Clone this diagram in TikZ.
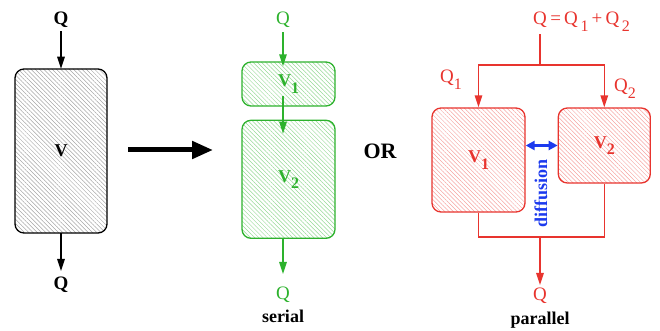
\documentclass[tikz,border=0pt]{standalone}
\usepackage{fontspec}
\setmainfont{Liberation Serif}
\usetikzlibrary{arrows.meta, positioning, patterns.meta, calc}

\definecolor{sergreen}{RGB}{45,178,45}
\definecolor{parred}{RGB}{232,52,46}
\definecolor{difblue}{RGB}{28,58,238}

\newcommand{\lowsub}[1]{\raisebox{-0.35em}{\fontsize{16}{16}\selectfont #1}}

\tikzstyle{vol} = [draw, line width=1.3pt, rounded corners=9pt, inner sep=0pt, font=\fontsize{18}{20}\selectfont\bfseries]
\tikzstyle{hatch} = [pattern={Lines[angle=-45, distance=3pt, line width=0.5pt]}]
\tikzstyle{flow} = [line width=1.4pt, -{Triangle[length=12pt, width=7.5pt]}]
\tikzstyle{qlabel} = [font=\fontsize{19}{22}\selectfont, inner sep=1pt]
\tikzstyle{caption} = [font=\fontsize{18}{20}\selectfont\bfseries, inner sep=1pt]

\begin{document}
\begin{tikzpicture}[x=1pt, y=-1pt]
        \useasboundingbox (0,0) rectangle (660,331);

        % Single volume
        \node[vol, hatch, pattern color=black!35, minimum width=92pt, minimum height=164pt] (vbox) at (61,151) {V};
        \node[qlabel, font=\fontsize{19}{22}\selectfont\bfseries] (qin) at (61,20) {Q};
        \node[qlabel, font=\fontsize{19}{22}\selectfont\bfseries] (qout) at (61,285) {Q};
        \draw[flow, shorten <=2pt] (qin) -- (vbox);
        \draw[flow, shorten >=5pt] (vbox) -- (qout);

        % Big arrow
        \coordinate (bigA) at (128,150);
        \coordinate (bigB) at (213,150);
        \draw[line width=5pt, -{Triangle[length=21pt, width=17pt]}] (bigA) -- (bigB);

        \node[font=\fontsize{22}{24}\selectfont\bfseries] (or) at (380,151) {OR};

        % Serial volumes
        \node[vol, hatch, draw=sergreen, pattern color=sergreen!50, text=sergreen, minimum width=93pt, minimum height=44pt] (g1) at (288.5,84) {V\lowsub{1}};
        \node[vol, hatch, draw=sergreen, pattern color=sergreen!50, text=sergreen, minimum width=93pt, minimum height=118pt, below=13pt of g1] (g2) {V\lowsub{2}};
        \node[qlabel, sergreen] (gqin) at (283,20) {Q};
        \node[qlabel, sergreen] (gqout) at (283,295) {Q};
        \draw[flow, sergreen, shorten <=3pt] (gqin) -- ($(gqin |- g1.north)+(0,5)$);
        \draw[flow, sergreen] ($(gqin |- g1.south)+(0,-11)$) -- ($(gqin |- g2.north)+(0,14)$);
        \draw[flow, sergreen, shorten >=12pt] (gqin |- g2.south) -- (gqout);
        \node[caption] (serial) at (283,316) {serial};

        % Parallel volumes
        \node[vol, hatch, draw=parred, pattern color=parred!45, text=parred, minimum width=93pt, minimum height=104pt] (r1) at (478.5,160) {V\lowsub{1}};
        \node[vol, hatch, draw=parred, pattern color=parred!45, text=parred, minimum width=92pt, minimum height=75pt, anchor=north west] (r2) at ([xshift=32pt]r1.north east) {V\lowsub{2}};
        \node[qlabel, parred] (rqin) at (540,20) {Q};
        \node[qlabel, parred, base right=1pt of rqin] (rsum) {=\,Q\lowsub{\,1}\,+\,Q\lowsub{\,2}};
        \node[qlabel, parred] (q1) at (451,80) {Q\lowsub{1}};
        \node[qlabel, parred] (q2) at (625,89) {Q\lowsub{2}};
        \coordinate (rsplit) at (540,65);
        \coordinate (rjoin) at (540,237);
        \draw[flow, parred, shorten <=5pt] (rqin) -- (rsplit) -| (r1.north);
        \draw[flow, parred] (rsplit) -| (r2.north);
        \draw[parred, line width=1.4pt] (r1.south) |- (rjoin) -| (r2.south);
        \node[qlabel, parred] (rqout) at (540,296) {Q};
        \draw[flow, parred, shorten >=2pt] (rjoin) -- (rqout);
        \node[caption] (parallel) at (540,320) {parallel};

        % Diffusion
        \draw[line width=2.5pt, difblue, {Triangle[length=9pt, width=9pt]}-{Triangle[length=9pt, width=9pt]}] (r1.east |- r2.west) -- (r2.west);
        \node[caption, difblue, rotate=90] (diff) at (541,193) {diffusion};

    \end{tikzpicture}
\end{document}
